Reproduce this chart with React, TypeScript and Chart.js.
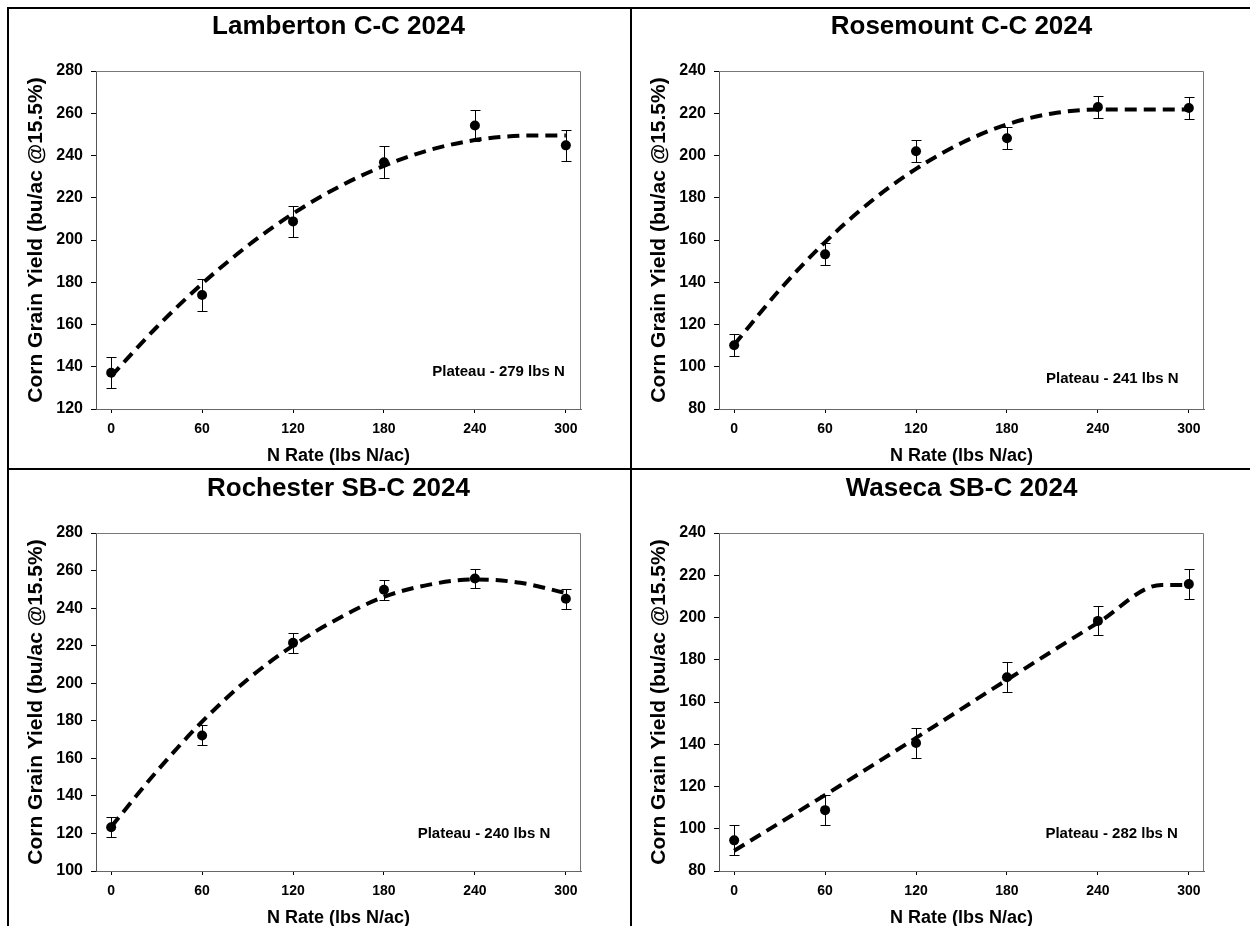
import React, { useEffect, useRef } from "react";
import { Chart, registerables } from "chart.js";

Chart.register(...registerables);
Chart.defaults.font.family = "'Liberation Sans', Arial, Helvetica, sans-serif";

// ---------- data ----------
const nRates = [0, 60, 120, 180, 240, 300];
const xTickValues = [0, 60, 120, 180, 240, 300];
const xAxisLabel = "N Rate (lbs N/ac)";
const yAxisLabel = "Corn Grain Yield (bu/ac @15.5%)";

// Lamberton C-C 2024
const lambertonMeans = [137.2, 174.0, 208.8, 236.8, 254.2, 244.8];
const lambertonSE = [7.4, 7.5, 7.5, 7.5, 7.5, 7.5];
const lambertonFitX = [0, 30, 60, 90, 120, 150, 180, 210, 240, 270, 279, 300];
const lambertonFitY = [135.5, 158.7, 179.3, 197.2, 212.5, 225.1, 235.1, 242.6, 247.3, 249.4, 249.5, 249.5];
const lambertonYTicks = [120, 140, 160, 180, 200, 220, 240, 260, 280];
const lambertonNote = "Plateau - 279 lbs N";
const lambertonNotePos = [299.3, 137.8];

// Rosemount C-C 2024
const rosemountMeans = [110.2, 153.2, 202.0, 208.2, 223.0, 222.5];
const rosemountSE = [5.3, 5.2, 5.2, 5.2, 5.2, 5.2];
const rosemountFitX = [0, 30, 60, 90, 120, 150, 180, 210, 241, 270, 300];
const rosemountFitY = [110.4, 136.4, 159.0, 178.1, 193.7, 205.9, 214.7, 219.9, 221.8, 221.8, 221.8];
const rosemountYTicks = [80, 100, 120, 140, 160, 180, 200, 220, 240];
const rosemountNote = "Plateau - 241 lbs N";
const rosemountNotePos = [293.2, 94.3];

// Rochester SB-C 2024
const rochesterMeans = [123.3, 172.2, 221.5, 249.8, 255.8, 245.0];
const rochesterSE = [5.3, 5.3, 5.3, 5.3, 5.2, 5.3];
const rochesterFitX = [0, 30, 60, 90, 120, 150, 180, 210, 240, 270, 300];
const rochesterFitY = [123.5, 153.0, 179.5, 202.0, 220.0, 234.5, 246.0, 252.5, 255.3, 253.5, 248.0];
const rochesterYTicks = [100, 120, 140, 160, 180, 200, 220, 240, 260, 280];
const rochesterNote = "Plateau - 240 lbs N";
const rochesterNotePos = [289.7, 120.0];

// Waseca SB-C 2024
const wasecaMeans = [94.5, 108.8, 140.6, 171.7, 198.4, 215.8];
const wasecaSE = [7.1, 7.0, 7.0, 7.0, 6.9, 7.0];
const wasecaFitX = [0, 60, 120, 180, 240, 282, 300];
const wasecaFitY = [89.6, 116.0, 143.0, 170.5, 197.5, 215.4, 215.4];
const wasecaYTicks = [80, 100, 120, 140, 160, 180, 200, 220, 240];
const wasecaNote = "Plateau - 282 lbs N";
const wasecaNotePos = [292.8, 97.8];

const panels = [
  { title: "Lamberton C-C 2024", means: lambertonMeans, se: lambertonSE, fitX: lambertonFitX, fitY: lambertonFitY, yTicks: lambertonYTicks, note: lambertonNote, notePos: lambertonNotePos },
  { title: "Rosemount C-C 2024", means: rosemountMeans, se: rosemountSE, fitX: rosemountFitX, fitY: rosemountFitY, yTicks: rosemountYTicks, note: rosemountNote, notePos: rosemountNotePos },
  { title: "Rochester SB-C 2024", means: rochesterMeans, se: rochesterSE, fitX: rochesterFitX, fitY: rochesterFitY, yTicks: rochesterYTicks, note: rochesterNote, notePos: rochesterNotePos },
  { title: "Waseca SB-C 2024", means: wasecaMeans, se: wasecaSE, fitX: wasecaFitX, fitY: wasecaFitY, yTicks: wasecaYTicks, note: wasecaNote, notePos: wasecaNotePos },
];

const CW = 621;
const CH = 459;
const panelPos = [
  [9, 9],
  [632, 9],
  [9, 471],
  [632, 471],
];

type PanelCfg = (typeof panels)[number];

function Panel({ cfg, left, top }: { cfg: PanelCfg; left: number; top: number }) {
  const ref = useRef<HTMLCanvasElement>(null);
  useEffect(() => {
    const boxPlugin = {
      id: "boxAndErrors",
      beforeDatasetsDraw(chart: any) {
        const { ctx, chartArea } = chart;
        const xs = chart.scales.x;
        const ys = chart.scales.y;
        ctx.save();
        ctx.strokeStyle = "#777";
        ctx.lineWidth = 1;
        ctx.beginPath();
        ctx.moveTo(chartArea.left, chartArea.top + 0.5);
        ctx.lineTo(chartArea.right - 0.5, chartArea.top + 0.5);
        ctx.lineTo(chartArea.right - 0.5, chartArea.bottom);
        ctx.stroke();
        // error bars
        ctx.strokeStyle = "#000";
        ctx.lineWidth = 1;
        cfg.means.forEach((m, i) => {
          const px = Math.round(xs.getPixelForValue(nRates[i])) + 0.5;
          const yTop = Math.round(ys.getPixelForValue(m + cfg.se[i])) + 0.5;
          const yBot = Math.round(ys.getPixelForValue(m - cfg.se[i])) + 0.5;
          ctx.beginPath();
          ctx.moveTo(px, yTop);
          ctx.lineTo(px, yBot);
          ctx.moveTo(px - 5, yTop);
          ctx.lineTo(px + 5, yTop);
          ctx.moveTo(px - 5, yBot);
          ctx.lineTo(px + 5, yBot);
          ctx.stroke();
        });
        ctx.restore();
      },
      afterDatasetsDraw(chart: any) {
        const { ctx } = chart;
        const xs = chart.scales.x;
        const ys = chart.scales.y;
        ctx.save();
        ctx.fillStyle = "#000";
        ctx.font = "bold 15px 'Liberation Sans', Arial, sans-serif";
        ctx.textAlign = "right";
        ctx.textBaseline = "middle";
        ctx.fillText(cfg.note, xs.getPixelForValue(cfg.notePos[0]), ys.getPixelForValue(cfg.notePos[1]));
        ctx.restore();
      },
    };

    const chart = new Chart(ref.current as HTMLCanvasElement, {
      type: "scatter",
      data: {
        datasets: [
          {
            label: "fit",
            data: cfg.fitX.map((x, i) => ({ x, y: cfg.fitY[i] })),
            showLine: true,
            borderColor: "#000",
            borderWidth: 4,
            borderDash: [12, 7],
            pointRadius: 0,
            cubicInterpolationMode: "monotone",
            fill: false,
            order: 2,
          } as any,
          {
            label: "mean",
            data: nRates.map((x, i) => ({ x, y: cfg.means[i] })),
            showLine: false,
            pointRadius: 5,
            pointBackgroundColor: "#000",
            pointBorderColor: "#000",
            pointBorderWidth: 0,
            order: 1,
          } as any,
        ],
      },
      options: {
        responsive: false,
        animation: false,
        devicePixelRatio: 1,
        layout: { padding: { left: 0, right: 49, top: 0, bottom: 0 } },
        plugins: {
          legend: { display: false },
          tooltip: { enabled: false },
          title: {
            display: true,
            text: cfg.title,
            fullSize: false,
            color: "#000",
            font: { size: 26, weight: "bold" },
            padding: { top: 2, bottom: 28.8 },
          },
        },
        scales: {
          x: {
            type: "linear",
            min: -10,
            max: 310,
            afterBuildTicks: (s: any) => {
              s.ticks = xTickValues.map((v) => ({ value: v }));
            },
            afterFit: (s: any) => {
              s.height = 59;
            },
            grid: { display: true, drawOnChartArea: false, drawTicks: true, tickLength: 4, color: "#000" },
            border: { display: true, color: "#666", width: 1 },
            ticks: { color: "#000", font: { size: 14, weight: "bold" }, padding: 8, maxRotation: 0, autoSkip: false },
            title: { display: true, text: xAxisLabel, color: "#000", font: { size: 18, weight: "bold" }, padding: { top: 0, bottom: 1 } },
          },
          y: {
            type: "linear",
            min: cfg.yTicks[0],
            max: cfg.yTicks[cfg.yTicks.length - 1],
            afterBuildTicks: (s: any) => {
              s.ticks = cfg.yTicks.map((v) => ({ value: v }));
            },
            afterFit: (s: any) => {
              s.width = 87;
            },
            grid: { display: true, drawOnChartArea: false, drawTicks: true, tickLength: 5, color: "#000" },
            border: { display: true, color: "#555", width: 1 },
            ticks: { color: "#000", font: { size: 16, weight: "bold" }, padding: 8, autoSkip: false },
            title: { display: true, text: yAxisLabel, color: "#000", font: { size: 21, weight: "bold" }, padding: { top: 15, bottom: 0 } },
          },
        },
      } as any,
      plugins: [boxPlugin],
    });
    return () => chart.destroy();
  }, []);
  return (
    <canvas
      ref={ref}
      width={CW}
      height={CH}
      style={{ position: "absolute", left, top, width: CW, height: CH, display: "block" }}
    />
  );
}

export default function App() {
  const line = (l: number, t: number, w: number, h: number) => (
    <div style={{ position: "absolute", left: l, top: t, width: w, height: h, background: "#000" }} />
  );
  return (
    <div
      style={{
        position: "absolute",
        left: 0,
        top: 0,
        width: 1250,
        height: 926,
        overflow: "hidden",
        background: "#fff",
      }}
    >
      {panels.map((p, i) => (
        <Panel key={i} cfg={p} left={panelPos[i][0]} top={panelPos[i][1]} />
      ))}
      {line(7, 7, 1243, 2)}
      {line(7, 7, 2, 919)}
      {line(630, 7, 2, 919)}
      {line(7, 468, 1243, 2)}
    </div>
  );
}
